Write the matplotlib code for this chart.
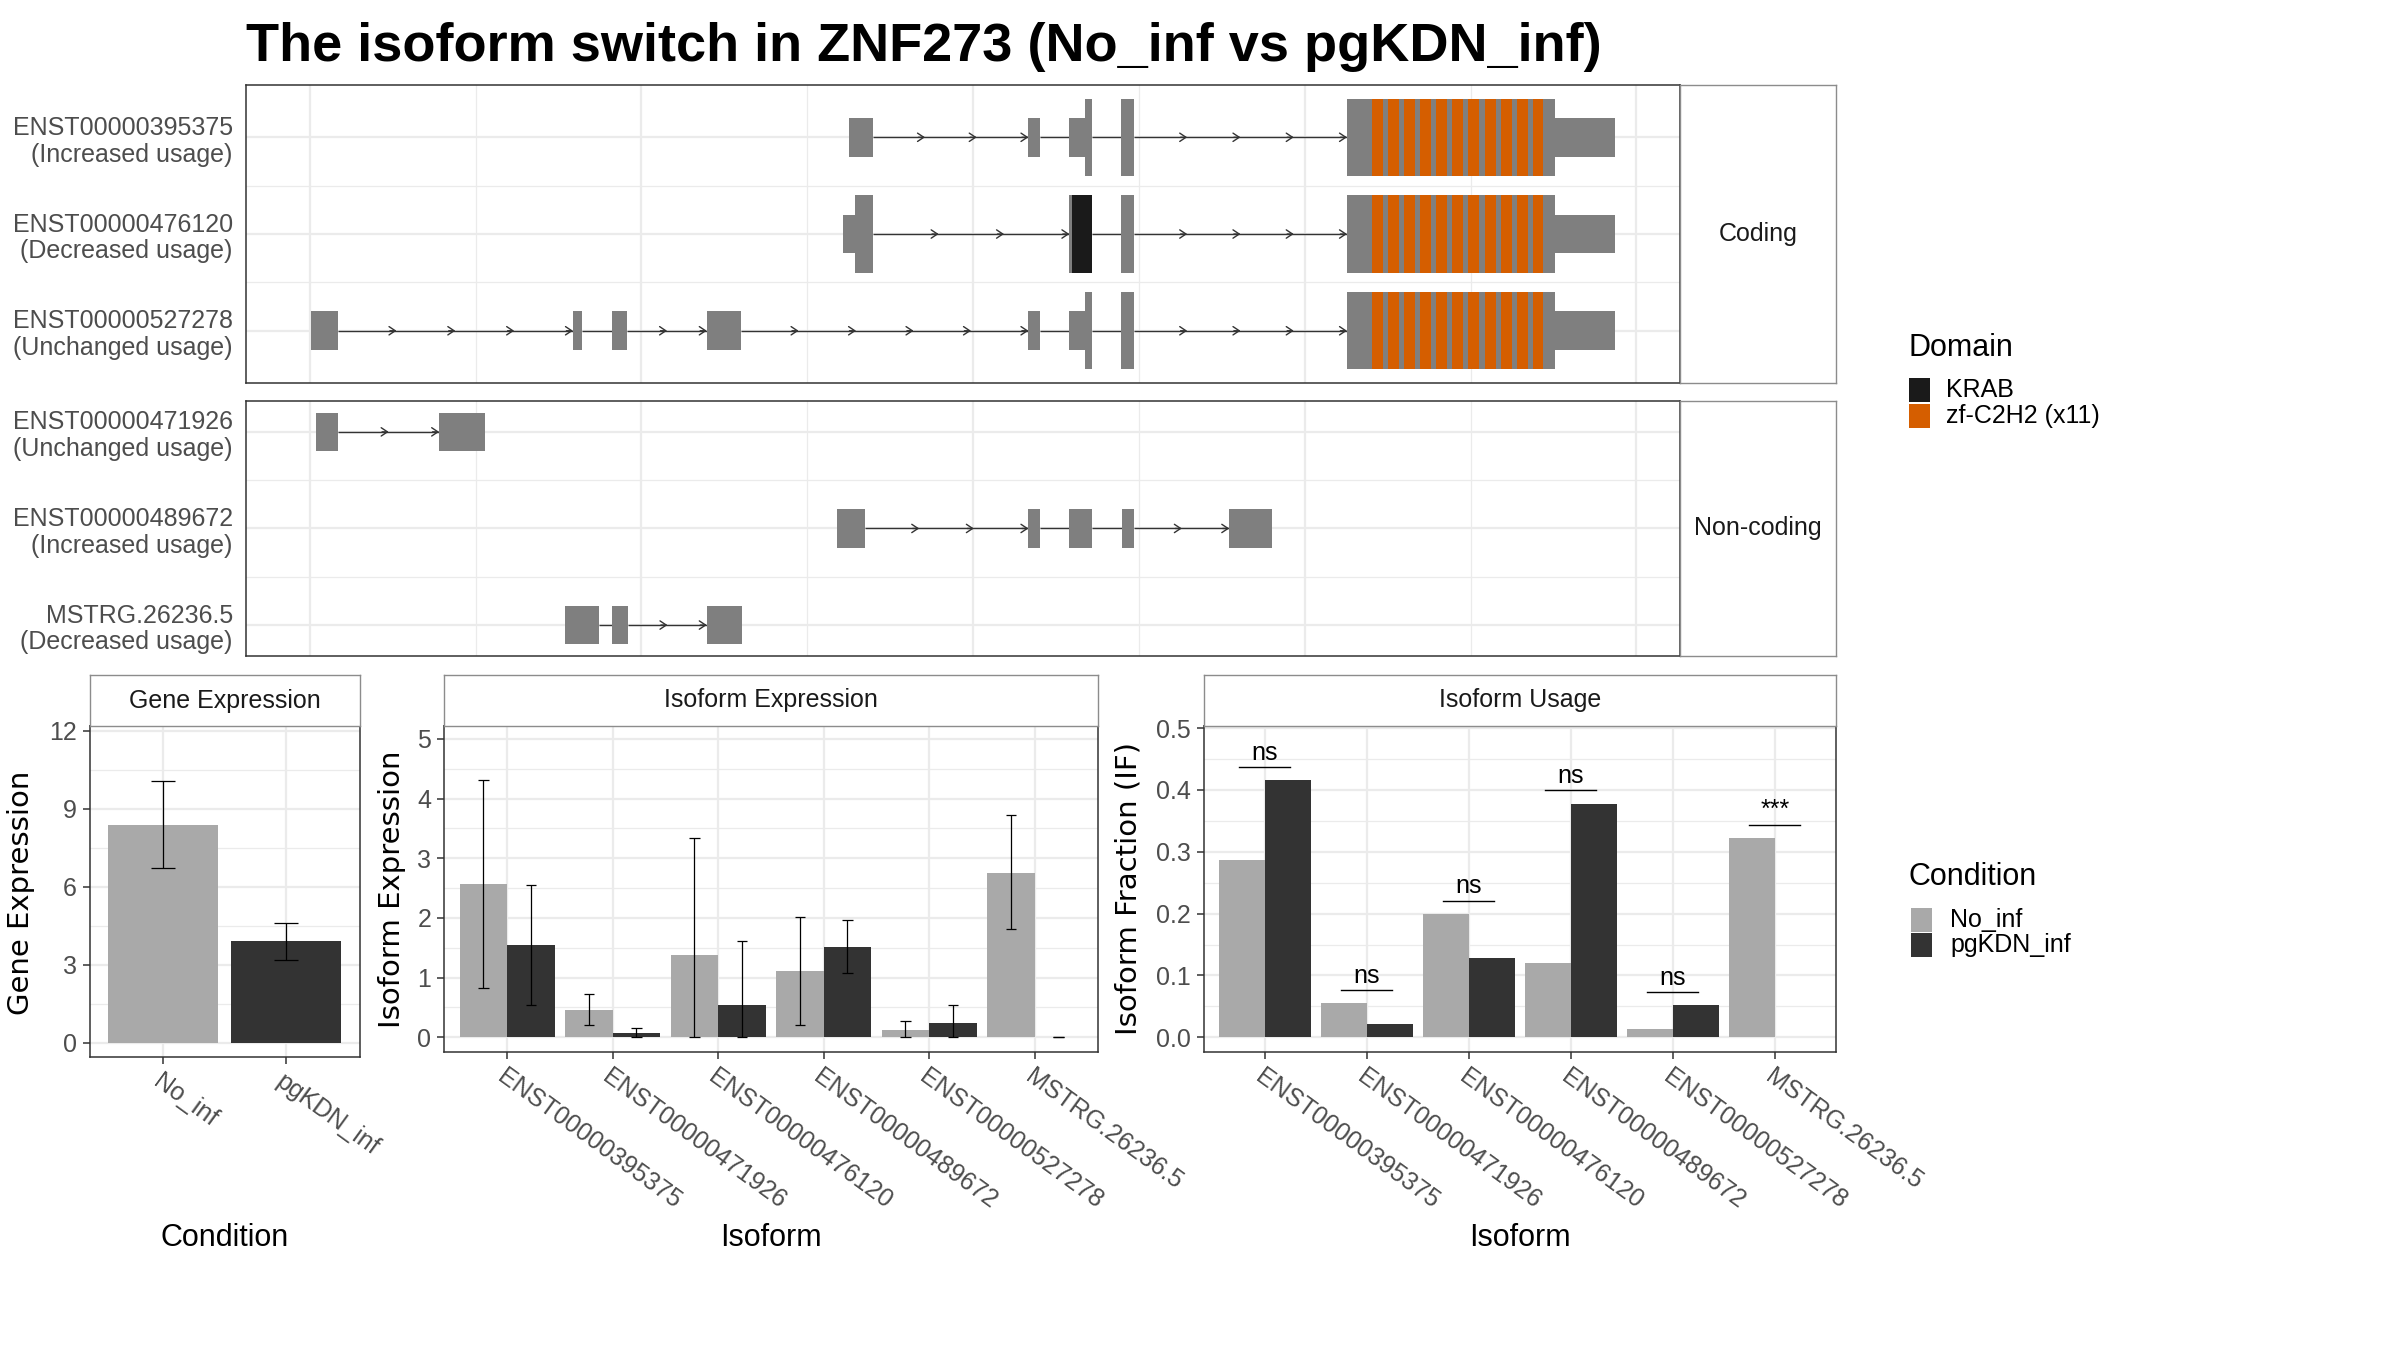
import math
import matplotlib
matplotlib.use("Agg")
import matplotlib.pyplot as plt
from matplotlib.patches import Rectangle

plt.rcParams["font.family"] = ["Liberation Sans", "DejaVu Sans"]

EXON = "#7F7F7F"
KRAB_COL = "#1A1A1A"
ZF_COL = "#D55E00"
NO_COL = "#A9A9A9"
PG_COL = "#333333"
GRID = "#EBEBEB"
TXT = "#4D4D4D"

# ---- transcript structures (x: genomic axis, one unit per grid line) ----
coding_names = ["ENST00000395375", "ENST00000476120", "ENST00000527278"]
coding_usage = ["Increased usage", "Decreased usage", "Unchanged usage"]
noncoding_names = ["ENST00000471926", "ENST00000489672", "MSTRG.26236.5"]
noncoding_usage = ["Unchanged usage", "Increased usage", "Decreased usage"]

ex_395375 = [(3.249, 3.398), (4.334, 4.404), (4.581, 4.717), (4.894, 4.970), (6.255, 7.870)]
cds_395375 = [(4.672, 4.717), (4.894, 4.970), (6.255, 7.512)]
ex_476120 = [(3.213, 3.398), (4.581, 4.717), (4.894, 4.970), (6.255, 7.870)]
cds_476120 = [(3.286, 3.398), (4.581, 4.717), (4.894, 4.970), (6.255, 7.512)]
krab_476120 = [(4.599, 4.717)]
ex_527278 = [(0.008, 0.168), (1.587, 1.642), (1.822, 1.915), (2.394, 2.601),
             (4.334, 4.404), (4.581, 4.717), (4.894, 4.970), (6.255, 7.870)]
cds_527278 = [(4.672, 4.717), (4.894, 4.970), (6.255, 7.512)]
zf_start = [6.406, 6.502, 6.599, 6.695, 6.792, 6.888, 6.984, 7.087, 7.183, 7.280, 7.376]
zf_end = [6.472, 6.568, 6.665, 6.761, 6.858, 6.954, 7.050, 7.153, 7.249, 7.346, 7.435]

ex_471926 = [(0.039, 0.171), (0.780, 1.058)]
ex_489672 = [(3.182, 3.346), (4.334, 4.405), (4.581, 4.718), (4.895, 4.973), (5.545, 5.800)]
ex_mstrg = [(1.540, 1.743), (1.822, 1.920), (2.394, 2.606)]

# ---- expression data ----
conditions = ["No_inf", "pgKDN_inf"]
gene_expr = [8.37, 3.91]
gene_lo = [6.72, 3.20]
gene_hi = [10.06, 4.60]

isoforms = ["ENST00000395375", "ENST00000471926", "ENST00000476120",
            "ENST00000489672", "ENST00000527278", "MSTRG.26236.5"]
iso_no = [2.57, 0.46, 1.38, 1.11, 0.12, 2.75]
iso_no_lo = [0.82, 0.21, 0.00, 0.21, 0.00, 1.81]
iso_no_hi = [4.31, 0.72, 3.34, 2.01, 0.28, 3.72]
iso_pg = [1.55, 0.07, 0.54, 1.51, 0.24, 0.00]
iso_pg_lo = [0.54, 0.00, 0.00, 1.07, 0.00, 0.00]
iso_pg_hi = [2.55, 0.16, 1.62, 1.96, 0.54, 0.00]

if_no = [0.287, 0.056, 0.200, 0.120, 0.013, 0.323]
if_pg = [0.416, 0.022, 0.128, 0.378, 0.052, 0.000]
sig_y = [0.437, 0.076, 0.221, 0.400, 0.073, 0.344]
sig_lab = ["ns", "ns", "ns", "ns", "ns", "***"]

fig = plt.figure(figsize=(24, 13.5), dpi=100)


def draw_transcript(ax, y, exons, cds=(), krab=(), zf=()):
    for (a, b), (c, d) in zip(exons[:-1], exons[1:]):
        ax.plot([b, c], [y, y], color="#333333", lw=1.0, zorder=1, solid_capstyle="butt")
        L = c - b
        if L > 0.24:
            n = math.ceil(L / 0.4)
            for k in range(1, n + 1):
                p = b + k * L / n
                ax.annotate("", xy=(p, y), xytext=(p - 0.04, y), zorder=1,
                            arrowprops=dict(arrowstyle="->,head_length=0.45,head_width=0.3",
                                            color="#333333", lw=1.0, shrinkA=0, shrinkB=0))
    for a, b in exons:
        ax.add_patch(Rectangle((a, y - 0.2), b - a, 0.4, fc=EXON, ec="none", zorder=3))
    for a, b in cds:
        ax.add_patch(Rectangle((a, y - 0.4), b - a, 0.8, fc=EXON, ec="none", zorder=3))
    for a, b in krab:
        ax.add_patch(Rectangle((a, y - 0.4), b - a, 0.8, fc=KRAB_COL, ec="none", zorder=4))
    for a, b in zf:
        ax.add_patch(Rectangle((a, y - 0.4), b - a, 0.8, fc=ZF_COL, ec="none", zorder=4))


def style_panel(ax):
    for s in ax.spines.values():
        s.set_color("#333333")
        s.set_linewidth(1.1)
    ax.set_axisbelow(True)


def strip(rect, text):
    s = fig.add_axes(rect)
    s.set_xticks([])
    s.set_yticks([])
    for sp in s.spines.values():
        sp.set_color("#8C8C8C")
        sp.set_linewidth(1.0)
    s.text(0.5, 0.5, text, ha="center", va="center", fontsize=18, color="#1A1A1A",
           transform=s.transAxes)
    return s


def structure_panel(rect, ylim, names, usage, layers):
    ax = fig.add_axes(rect)
    style_panel(ax)
    ax.set_xlim(-0.385, 8.263)
    ax.set_ylim(*ylim)
    ax.set_xticks([0, 2, 4, 6, 8])
    ax.set_xticks([1, 3, 5, 7], minor=True)
    ax.set_yticks([3, 2, 1])
    ax.set_yticks([1.5, 2.5], minor=True)
    ax.set_xticklabels([])
    ax.set_yticklabels([f"{n}\n({u})" for n, u in zip(names, usage)],
                       fontsize=18, color=TXT, linespacing=1.15)
    ax.tick_params(which="both", length=0)
    ax.tick_params(axis="y", pad=9.5)
    ax.grid(which="major", color=GRID, lw=1.6)
    ax.grid(which="minor", color=GRID, lw=0.9)
    for y, lay in zip([3, 2, 1], layers):
        draw_transcript(ax, y, **lay)
    return ax


# ---- transcript structure panels ----
structure_panel([0.1025, 0.7163, 0.5975, 0.2207], (0.46, 3.54), coding_names, coding_usage,
                [dict(exons=ex_395375, cds=cds_395375, zf=list(zip(zf_start, zf_end))),
                 dict(exons=ex_476120, cds=cds_476120, krab=krab_476120,
                      zf=list(zip(zf_start, zf_end))),
                 dict(exons=ex_527278, cds=cds_527278, zf=list(zip(zf_start, zf_end)))])
strip([0.7, 0.7163, 0.065, 0.2207], "Coding")

structure_panel([0.1025, 0.5141, 0.5975, 0.1889], (0.68, 3.32), noncoding_names, noncoding_usage,
                [dict(exons=ex_471926), dict(exons=ex_489672), dict(exons=ex_mstrg)])
strip([0.7, 0.5141, 0.065, 0.1889], "Non-coding")


def bar_panel(rect, strip_text, ylim, yticks, yfmt, ncat):
    ax = fig.add_axes(rect)
    style_panel(ax)
    ax.set_xlim(0.4, ncat + 0.6)
    ax.set_ylim(*ylim)
    ax.set_yticks(yticks)
    step = yticks[1] - yticks[0]
    ax.set_yticks([t + step / 2 for t in yticks[:-1]], minor=True)
    ax.set_yticklabels([yfmt.format(t) for t in yticks], fontsize=18, color=TXT)
    ax.set_xticks(range(1, ncat + 1))
    ax.tick_params(which="major", length=5, width=1.1, color="#333333", pad=4)
    ax.tick_params(which="minor", length=0)
    ax.grid(which="major", color=GRID, lw=1.6)
    ax.grid(which="minor", axis="y", color=GRID, lw=0.9)
    strip([rect[0], rect[1] + rect[3], rect[2], 0.0378], strip_text)
    return ax


def errbars(ax, x, lo, hi, w):
    ax.vlines(x, lo, hi, color="black", lw=0.9, zorder=4)
    ax.hlines(lo, [v - w / 2 for v in x], [v + w / 2 for v in x], color="black", lw=0.9, zorder=4)
    ax.hlines(hi, [v - w / 2 for v in x], [v + w / 2 for v in x], color="black", lw=0.9, zorder=4)


# ---- gene expression ----
axg = bar_panel([0.0373, 0.217, 0.1125, 0.2452], "Gene Expression", (-0.55, 12.18),
                [0, 3, 6, 9, 12], "{:g}", 2)
xg = [1, 2]
axg.bar(xg, gene_expr, width=0.9, color=[NO_COL, PG_COL], zorder=3)
errbars(axg, xg, gene_lo, gene_hi, 0.2)
axg.set_xticklabels(conditions, rotation=-36, ha="left", va="top",
                    rotation_mode="anchor", fontsize=18, color=TXT)

# ---- isoform expression ----
axi = bar_panel([0.1849, 0.221, 0.2726, 0.2413], "Isoform Expression", (-0.241, 5.218),
                [0, 1, 2, 3, 4, 5], "{:g}", 6)
xc = list(range(1, 7))
xn = [c - 0.225 for c in xc]
xp = [c + 0.225 for c in xc]
axi.bar(xn, iso_no, width=0.45, color=NO_COL, zorder=3)
axi.bar(xp, iso_pg, width=0.45, color=PG_COL, zorder=3)
errbars(axi, xn, iso_no_lo, iso_no_hi, 0.1)
errbars(axi, xp, iso_pg_lo, iso_pg_hi, 0.1)
axi.set_xticklabels(isoforms, rotation=-36, ha="left", va="top",
                    rotation_mode="anchor", fontsize=18, color=TXT)

# ---- isoform usage ----
axu = bar_panel([0.5015, 0.221, 0.2635, 0.2413], "Isoform Usage", (-0.0233, 0.5037),
                [0.0, 0.1, 0.2, 0.3, 0.4, 0.5], "{:.1f}", 6)
axu.bar(xn, if_no, width=0.45, color=NO_COL, zorder=3)
axu.bar(xp, if_pg, width=0.45, color=PG_COL, zorder=3)
for c, y, lab in zip(xc, sig_y, sig_lab):
    axu.plot([c - 0.25, c + 0.25], [y, y], color="black", lw=1.0, zorder=4)
    axu.text(c, y + 0.004, lab, ha="center", va="bottom", fontsize=18, color="black")
axu.set_xticklabels(isoforms, rotation=-36, ha="left", va="top",
                    rotation_mode="anchor", fontsize=18, color=TXT)

# ---- axis titles ----
fig.text(0.00875, 0.339, "Gene Expression", rotation=90, ha="center", va="center",
         fontsize=21, family="DejaVu Sans")
fig.text(0.1633, 0.3415, "Isoform Expression", rotation=90, ha="center", va="center",
         fontsize=21, family="DejaVu Sans")
fig.text(0.4704, 0.3415, "Isoform Fraction (IF)", rotation=90, ha="center", va="center",
         fontsize=21, family="DejaVu Sans")
fig.text(0.0936, 0.083, "Condition", ha="center", va="center", fontsize=22)
fig.text(0.3212, 0.083, "Isoform", ha="center", va="center", fontsize=22)
fig.text(0.6333, 0.083, "Isoform", ha="center", va="center", fontsize=22)

# ---- legends ----
fig.text(0.7954, 0.7422, "Domain", ha="left", va="center", fontsize=22)
for (bot, col, lab) in [(0.7022, KRAB_COL, "KRAB"), (0.6830, ZF_COL, "zf-C2H2 (x11)")]:
    fig.add_artist(Rectangle((0.7954, bot), 0.00875, 0.0178, fc=col, ec="none",
                             transform=fig.transFigure))
    fig.text(0.811, bot + 0.0089, lab, ha="left", va="center", fontsize=18)

fig.text(0.7954, 0.3504, "Condition", ha="left", va="center", fontsize=22)
for (bot, col, lab) in [(0.3096, NO_COL, "No_inf"), (0.2911, PG_COL, "pgKDN_inf")]:
    fig.add_artist(Rectangle((0.7962, bot), 0.00875, 0.0178, fc=col, ec="none",
                             transform=fig.transFigure))
    fig.text(0.8125, bot + 0.0089, lab, ha="left", va="center", fontsize=18)

fig.text(0.1025, 0.955, "The isoform switch in ZNF273 (No_inf vs pgKDN_inf)",
         ha="left", va="baseline", fontsize=39, fontweight="bold")

fig.savefig("out.png", dpi=100)
